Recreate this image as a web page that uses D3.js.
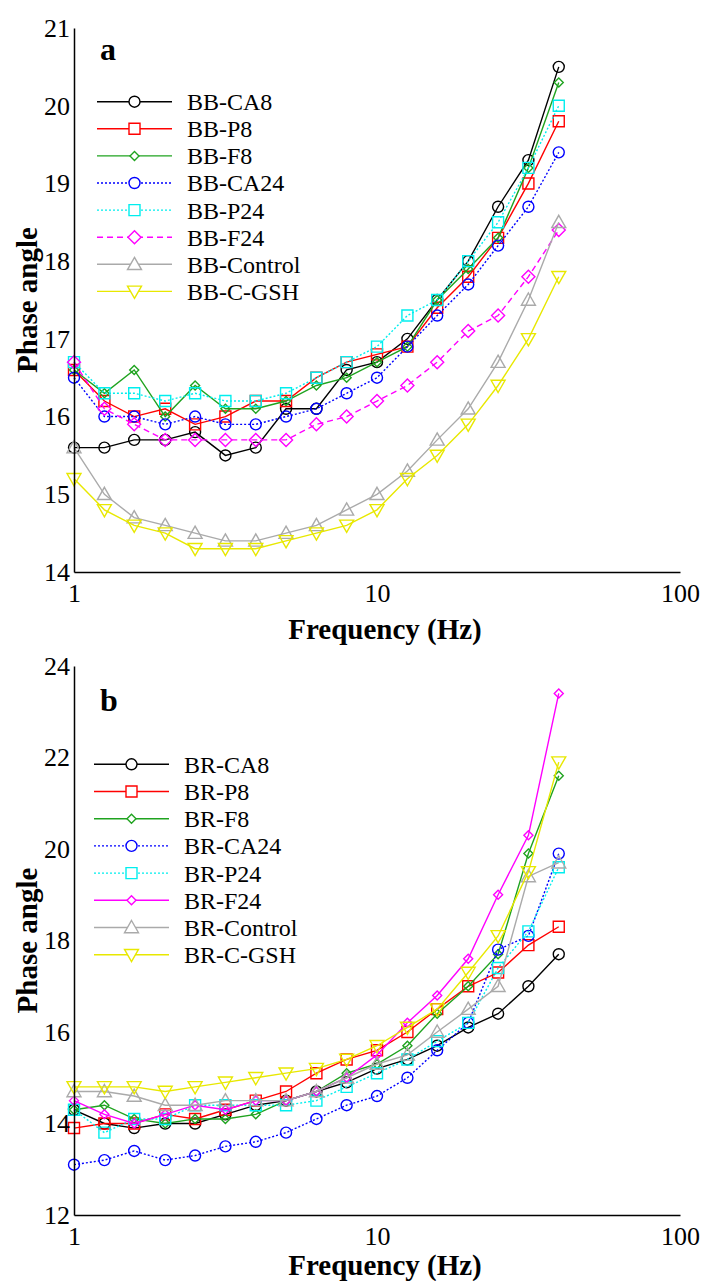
<!doctype html>
<html>
<head>
<meta charset="utf-8">
<script src="https://cdnjs.cloudflare.com/ajax/libs/d3/7.8.5/d3.min.js"></script>
<style>
  body { margin: 0; background: #fff; }
  svg { display: block; }
</style>
</head>
<body>
<svg width="706" height="1281"></svg>
<script>
// frequencies (Hz), shared by both panels
const freqs = [1, 1.26, 1.58, 2, 2.51, 3.16, 3.98, 5.01, 6.31, 7.94, 10, 12.6, 15.8, 20, 25.1, 31.6, 39.8];
const xTicks = [1, 10, 100];

// panel a
const namesA = ["BB-CA8", "BB-P8", "BB-F8", "BB-CA24", "BB-P24", "BB-F24", "BB-Control", "BB-C-GSH"];
const bbCA8     = [15.6, 15.6, 15.7, 15.7, 15.8, 15.5, 15.6, 16.1, 16.1, 16.6, 16.7, 17.0, 17.5, 18.0, 18.7, 19.3, 20.5];
const bbP8      = [16.6, 16.2, 16.0, 16.1, 15.9, 16.0, 16.2, 16.2, 16.5, 16.7, 16.8, 16.9, 17.4, 17.8, 18.3, 19.0, 19.8];
const bbF8      = [16.6, 16.3, 16.6, 16.0, 16.4, 16.1, 16.1, 16.2, 16.4, 16.5, 16.7, 16.9, 17.5, 17.9, 18.3, 19.2, 20.3];
const bbCA24    = [16.5, 16.0, 16.0, 15.9, 16.0, 15.9, 15.9, 16.0, 16.1, 16.3, 16.5, 16.9, 17.3, 17.7, 18.2, 18.7, 19.4];
const bbP24     = [16.7, 16.3, 16.3, 16.2, 16.3, 16.2, 16.2, 16.3, 16.5, 16.7, 16.9, 17.3, 17.5, 18.0, 18.5, 19.2, 20.0];
const bbF24     = [16.7, 16.1, 15.9, 15.7, 15.7, 15.7, 15.7, 15.7, 15.9, 16.0, 16.2, 16.4, 16.7, 17.1, 17.3, 17.8, 18.4];
const bbControl = [15.6, 15.0, 14.7, 14.6, 14.5, 14.4, 14.4, 14.5, 14.6, 14.8, 15.0, 15.3, 15.7, 16.1, 16.7, 17.5, 18.5];
const bbCGSH    = [15.2, 14.8, 14.6, 14.5, 14.3, 14.3, 14.3, 14.4, 14.5, 14.6, 14.8, 15.2, 15.5, 15.9, 16.4, 17.0, 17.8];
const yTicksA = [14, 15, 16, 17, 18, 19, 20, 21];

// panel b
const namesB = ["BR-CA8", "BR-P8", "BR-F8", "BR-CA24", "BR-P24", "BR-F24", "BR-Control", "BR-C-GSH"];
const brCA8     = [14.3, 14.0, 13.9, 14.0, 14.0, 14.2, 14.4, 14.5, 14.7, 14.9, 15.2, 15.4, 15.7, 16.1, 16.4, 17.0, 17.7];
const brP8      = [13.9, 14.0, 14.0, 14.2, 14.1, 14.3, 14.5, 14.7, 15.1, 15.4, 15.6, 16.0, 16.5, 17.0, 17.3, 17.9, 18.3];
const brF8      = [14.3, 14.4, 14.1, 14.0, 14.1, 14.1, 14.2, 14.5, 14.7, 15.1, 15.3, 15.7, 16.4, 17.0, 17.7, 19.9, 21.6];
const brCA24    = [13.1, 13.2, 13.4, 13.2, 13.3, 13.5, 13.6, 13.8, 14.1, 14.4, 14.6, 15.0, 15.6, 16.2, 17.8, 18.1, 19.9];
const brP24     = [14.3, 13.8, 14.1, 14.1, 14.4, 14.4, 14.4, 14.4, 14.5, 14.8, 15.1, 15.4, 15.8, 16.2, 17.4, 18.2, 19.6];
const brF24     = [14.5, 14.2, 14.0, 14.2, 14.4, 14.3, 14.5, 14.5, 14.7, 15.0, 15.5, 16.2, 16.8, 17.6, 19.0, 20.3, 23.4];
const brControl = [14.7, 14.7, 14.6, 14.4, 14.4, 14.5, 14.5, 14.5, 14.7, 15.0, 15.3, 15.5, 16.0, 16.5, 17.0, 19.4, 19.7];
const brCGSH    = [14.8, 14.8, 14.8, 14.7, 14.8, 14.9, 15.0, 15.1, 15.2, 15.4, 15.7, 16.1, 16.5, 17.3, 18.1, 19.5, 21.9];
const yTicksB = [12, 14, 16, 18, 20, 22, 24];

// line / marker styles
const stylesA = [
  {color: "#000000", dash: null,  marker: "circle",  s: 5.5},
  {color: "#ff0000", dash: null,  marker: "square",  s: 5.5},
  {color: "#1fa31f", dash: null,  marker: "diamond", s: 4.5},
  {color: "#0000ff", dash: "2,2", marker: "circle",  s: 5.5},
  {color: "#00eeee", dash: "2,2", marker: "square",  s: 5.5},
  {color: "#ff00ff", dash: "6,4", marker: "diamond", s: 6.5},
  {color: "#aaaaaa", dash: null,  marker: "triup",   s: 7},
  {color: "#e8e800", dash: null,  marker: "tridown", s: 7}
];
const stylesB = stylesA.map((d, i) => i == 5 ? {color: "#ff00ff", dash: null, marker: "diamond", s: 4.5} : d);

function markerPath(type, s) {
  if (type == "circle") return `M${-s},0a${s},${s} 0 1,0 ${2*s},0a${s},${s} 0 1,0 ${-2*s},0Z`;
  if (type == "square") return `M${-s},${-s}H${s}V${s}H${-s}Z`;
  if (type == "diamond") return `M0,${-s}L${s},0L0,${s}L${-s},0Z`;
  if (type == "triup") return `M0,${-s}L${s},${s*0.75}L${-s},${s*0.75}Z`;
  return `M0,${s}L${s},${-s*0.75}L${-s},${-s*0.75}Z`;
}

// a single family name: lists fall back to sans here
const FONT = "Liberation Serif";
const svg = d3.select("svg");
svg.append("rect").attr("width", 706).attr("height", 1281).attr("fill", "#fff");

function drawPanel(p) {
  const x = d3.scaleLog().domain([1, 100]).range([74, 680]);
  const y = d3.scaleLinear().domain(p.yDomain).range([p.bottom, p.top]);
  const g = svg.append("g");

  const line = d3.line().x(d => x(d[0])).y(d => y(d[1]));

  p.series.forEach((vals, i) => {
    const st = p.styles[i];
    const pts = freqs.map((f, k) => [f, vals[k]]);
    g.append("path")
      .attr("d", line(pts))
      .attr("fill", "none")
      .attr("stroke", st.color)
      .attr("stroke-width", 1.4)
      .attr("stroke-dasharray", st.dash);
    g.selectAll(null).data(pts).enter()
      .append("path")
      .attr("transform", d => `translate(${x(d[0])},${y(d[1])})`)
      .attr("d", markerPath(st.marker, st.s))
      .attr("fill", "none")
      .attr("stroke", st.color)
      .attr("stroke-width", 1.4);
  });

  const xAxis = g.append("g")
    .attr("transform", `translate(0,${p.bottom})`)
    .call(d3.axisBottom(x).tickValues(xTicks).tickFormat(d3.format("d")).tickSize(0).tickPadding(12));
  const yAxis = g.append("g")
    .attr("transform", "translate(74,0)")
    .call(d3.axisLeft(y).tickValues(p.yTicks).tickFormat(d3.format("d")).tickSize(0).tickPadding(4));
  [xAxis, yAxis].forEach(a => {
    a.attr("font-family", null);
    a.select(".domain").attr("stroke", "#000").attr("stroke-width", 1.5);
    a.selectAll("text").attr("font-size", 26).attr("fill", "#000").style("font-family", FONT);
  });

  g.append("text")
    .attr("x", 385).attr("y", p.bottom + p.xLabelOff)
    .attr("text-anchor", "middle")
    .attr("font-size", 29).attr("font-weight", "bold")
    .style("font-family", FONT)
    .text("Frequency (Hz)");
  g.append("text")
    .attr("transform", `translate(37,${(p.top + p.bottom) / 2}) rotate(-90)`)
    .attr("text-anchor", "middle")
    .attr("font-size", 29).attr("font-weight", "bold")
    .style("font-family", FONT)
    .text("Phase angle");
  g.append("text")
    .attr("x", 100).attr("y", p.letterY)
    .attr("font-size", 32).attr("font-weight", "bold")
    .style("font-family", FONT)
    .text(p.letter);

  // legend
  const lg = g.append("g");
  p.names.forEach((name, i) => {
    const st = p.styles[i];
    const ly = p.legY + i * p.legStep;
    lg.append("line")
      .attr("x1", p.legX).attr("x2", p.legX + 75)
      .attr("y1", ly).attr("y2", ly)
      .attr("stroke", st.color).attr("stroke-width", 1.4)
      .attr("stroke-dasharray", st.dash);
    lg.append("path")
      .attr("transform", `translate(${p.legX + 37.5},${ly})`)
      .attr("d", markerPath(st.marker, st.s))
      .attr("fill", "#fff")
      .attr("stroke", st.color).attr("stroke-width", 1.4);
    lg.append("text")
      .attr("x", p.legX + 90).attr("y", ly).attr("dy", "0.35em")
      .attr("font-size", 24)
      .style("font-family", FONT)
      .text(name);
  });
}

drawPanel({
  top: 28, bottom: 572, yDomain: [14, 21], yTicks: yTicksA,
  series: [bbCA8, bbP8, bbF8, bbCA24, bbP24, bbF24, bbControl, bbCGSH],
  names: namesA, styles: stylesA, letter: "a", letterY: 60,
  legX: 97, legY: 101.7, legStep: 27.1, xLabelOff: 67
});
drawPanel({
  top: 666, bottom: 1215, yDomain: [12, 24], yTicks: yTicksB,
  series: [brCA8, brP8, brF8, brCA24, brP24, brF24, brControl, brCGSH],
  names: namesB, styles: stylesB, letter: "b", letterY: 711,
  legX: 94, legY: 764.3, legStep: 27.2, xLabelOff: 60
});
</script>
</body>
</html>
